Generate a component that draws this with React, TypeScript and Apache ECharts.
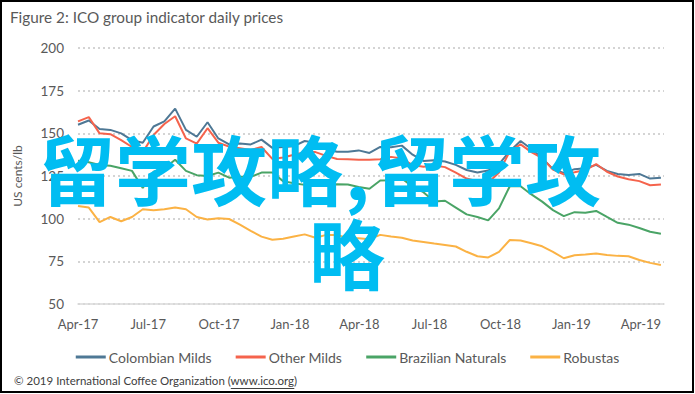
import React, { useEffect, useRef } from "react";
import * as echarts from "echarts";

// Fortnightly readings of the daily ICO group indicator prices (US cents/lb)
const dates = [
  "2017-04-01", "2017-04-15", "2017-04-29", "2017-05-13", "2017-05-27", "2017-06-10", "2017-06-24",
  "2017-07-08", "2017-07-22", "2017-08-05", "2017-08-19", "2017-09-02", "2017-09-16", "2017-09-30",
  "2017-10-14", "2017-10-28", "2017-11-11", "2017-11-25", "2017-12-09", "2017-12-23", "2018-01-06",
  "2018-01-20", "2018-02-03", "2018-02-17", "2018-03-03", "2018-03-17", "2018-03-31", "2018-04-14",
  "2018-04-28", "2018-05-12", "2018-05-26", "2018-06-09", "2018-06-23", "2018-07-07", "2018-07-21",
  "2018-08-04", "2018-08-18", "2018-09-01", "2018-09-15", "2018-09-29", "2018-10-13", "2018-10-27",
  "2018-11-10", "2018-11-24", "2018-12-08", "2018-12-22", "2019-01-05", "2019-01-19", "2019-02-02",
  "2019-02-16", "2019-03-02", "2019-03-16", "2019-03-30", "2019-04-13", "2019-04-27",
];

const colombianMilds = [
  155, 157.5, 152.5, 152, 150, 146, 144.5, 154, 157, 164.5, 152, 148, 156.5, 147,
  143.5, 144, 143.5, 146.3, 141.5, 142, 142.5, 145.5, 144.5, 140.5, 139.2, 139.2, 140, 138.5,
  142, 141.8, 142.8, 137.5, 133.8, 134.2, 133.5, 131.5, 128.5, 127, 128.2, 132, 139.5, 145.5,
  140.8, 135.5, 129, 126.8, 129, 129.5, 131.5, 128, 126.2, 125.6, 126.2, 123.5, 124,
];

const otherMilds = [
  157, 159.5, 150, 149.5, 146, 142, 139, 149, 155.5, 160, 147, 144, 153, 144.5,
  142.2, 141.2, 140.2, 142, 135, 135.8, 137.5, 139, 139, 136.8, 135, 134.8, 134.5, 134.5,
  134.8, 136.2, 135.2, 131.4, 130.4, 131.2, 130.2, 127, 123.5, 122, 121, 127, 139.5, 143.5,
  139, 135.5, 128.8, 126, 127.2, 128.5, 132, 127.5, 124.7, 123.1, 122, 119.6, 120,
];

const brazilianNaturals = [
  134, 133, 131.5, 131, 129.5, 128, 118, 127.5, 129.5, 134.5, 128, 125.5, 125, 127,
  124, 124.5, 124.5, 127, 127, 122, 120.7, 119.8, 120.2, 119.6, 120.2, 120, 118.5, 117.5,
  122.4, 122.5, 123.5, 118.7, 115.5, 110, 110.5, 106.5, 102.5, 101, 99, 106, 119, 119,
  114.2, 110, 105, 101.5, 103.8, 103.5, 104.5, 101, 97.6, 96.5, 94.5, 92.3, 91.2,
];

const robustas = [
  107.4, 106.5, 98, 101, 98.5, 101, 105.5, 105, 105.5, 106.5, 105.5, 101, 99.5, 100.2,
  99.8, 96.5, 92.8, 89.5, 87.6, 88.2, 89.5, 90.8, 88.8, 90.5, 90.5, 88.5, 88.5, 88,
  90.5, 89.5, 88.8, 87.2, 86.3, 85.4, 84.6, 83.7, 80.6, 78, 77.3, 80.5, 87.5, 87.2,
  85.6, 83.8, 80.6, 76.8, 78.6, 79, 79.6, 78.7, 78.2, 78, 75.8, 74.1, 72.9,
];

const seriesNames = ["Colombian Milds", "Other Milds", "Brazilian Naturals", "Robustas"];
const seriesColors = ["#4e7895", "#f5634c", "#4aa466", "#fbb244"];
const xMinDate = "2017-04-01";
const xMaxDate = "2019-05-01";
const xLabelDates = [
  "2017-04-01", "2017-07-01", "2017-10-01", "2018-01-01", "2018-04-01",
  "2018-07-01", "2018-10-01", "2019-01-01", "2019-04-01",
];
const monthNames = ["Jan", "Feb", "Mar", "Apr", "May", "Jun", "Jul", "Aug", "Sep", "Oct", "Nov", "Dec"];

const titleText = "Figure 2: ICO group indicator daily prices";
const footerPrefix = "\u00a9 2019 International Coffee Organization (";
const footerLink = "www.ico.org";
const footerSuffix = ")";
const watermarkColor = "#00bdf2";

const ts = (s: string) => Date.parse(s + "T00:00:00Z");

function measure(text: string, font: string): number {
  const c = document.createElement("canvas").getContext("2d");
  if (!c) return text.length * 5.5;
  c.font = font;
  return c.measureText(text).width;
}

export default function App() {
  const ref = useRef<HTMLDivElement>(null);

  useEffect(() => {
    document.body.style.margin = "0";
    if (!ref.current) return;
    const chart = echarts.init(ref.current, undefined, { renderer: "svg" });

    const allValues = [colombianMilds, otherMilds, brazilianNaturals, robustas];
    const footerFont = "11.5px Lato";
    const footerX = 14;
    const prefixW = measure(footerPrefix, footerFont);
    const linkW = measure(footerLink, footerFont);

    const wmFont = { fontSize: 76, fontWeight: "bold" as const, fontFamily: "Noto Sans CJK SC" };

    chart.setOption({
      animation: false,
      title: {
        text: titleText,
        left: 5,
        top: 4,
        textStyle: { fontFamily: "Lato", fontSize: 15.3, fontWeight: "normal", color: "#595959" },
      },
      grid: { left: 78, right: 31, top: 48, bottom: 90, containLabel: false },
      legend: {
        left: "center",
        top: 345,
        icon: "rect",
        itemWidth: 30,
        itemHeight: 3,
        itemGap: 24,
        textStyle: { fontFamily: "Lato", fontSize: 14, color: "#595959", padding: [0, 0, 0, -2] },
        data: seriesNames,
      },
      xAxis: {
        type: "value",
        min: ts(xMinDate),
        max: ts(xMaxDate),
        axisLine: { show: true, onZero: false, lineStyle: { color: "#d9d9d9", width: 1.5 } },
        axisTick: { show: false },
        splitLine: { show: false },
        axisLabel: {
          customValues: xLabelDates.map(ts),
          margin: 13,
          fontFamily: "Lato",
          fontSize: 13,
          color: "#595959",
          formatter: (v: number) => {
            const d = new Date(v);
            return monthNames[d.getUTCMonth()] + "-" + String(d.getUTCFullYear()).slice(2);
          },
        },
      },
      yAxis: {
        type: "value",
        min: 50,
        max: 200,
        interval: 25,
        name: "US cents/lb",
        nameLocation: "middle",
        nameGap: 55,
        nameTextStyle: { fontFamily: "Lato", fontSize: 12, color: "#595959" },
        axisLine: { show: false },
        axisTick: { show: false },
        axisLabel: { margin: 14, fontFamily: "Lato", fontSize: 13.5, color: "#595959" },
        splitLine: { lineStyle: { color: "#d4d4d4", width: 2, type: [2, 3] } },
      },
      series: seriesNames.map((name, i) => ({
        name,
        type: "line",
        showSymbol: false,
        symbol: "none",
        color: seriesColors[i],
        lineStyle: { width: 2, color: seriesColors[i] },
        data: dates.map((d, j) => [ts(d), allValues[i][j]]),
      })),
      graphic: [
        {
          type: "rect",
          silent: true,
          shape: { x: 1, y: 1, width: 692, height: 391 },
          style: { fill: "none", stroke: "#000", lineWidth: 2 },
          z: 100,
        },
        {
          type: "text",
          left: footerX,
          top: 374,
          style: {
            text: footerPrefix + footerLink + footerSuffix,
            font: footerFont,
            fill: "#404040",
          },
        },
        {
          type: "line",
          shape: { x1: footerX + prefixW, y1: 388.5, x2: footerX + prefixW + linkW, y2: 388.5 },
          style: { stroke: "#404040", lineWidth: 1 },
        },
        {
          type: "text",
          x: 39,
          y: 167,
          z: 50,
          style: { text: "留学攻略", ...wmFont, fill: watermarkColor, textVerticalAlign: "middle" },
        },
        {
          type: "text",
          x: 345,
          y: 167,
          z: 50,
          style: { text: ",", ...wmFont, fill: watermarkColor, textVerticalAlign: "middle" },
        },
        {
          type: "text",
          x: 373,
          y: 167,
          z: 50,
          style: { text: "留学攻", ...wmFont, fill: watermarkColor, textVerticalAlign: "middle" },
        },
        {
          type: "text",
          x: 309,
          y: 251,
          z: 50,
          style: { text: "略", ...wmFont, fill: watermarkColor, textVerticalAlign: "middle" },
        },
      ],
    });

    return () => chart.dispose();
  }, []);

  return (
    <div
      ref={ref}
      style={{ position: "absolute", left: 0, top: 0, width: 695, height: 394, background: "#fff" }}
    />
  );
}
